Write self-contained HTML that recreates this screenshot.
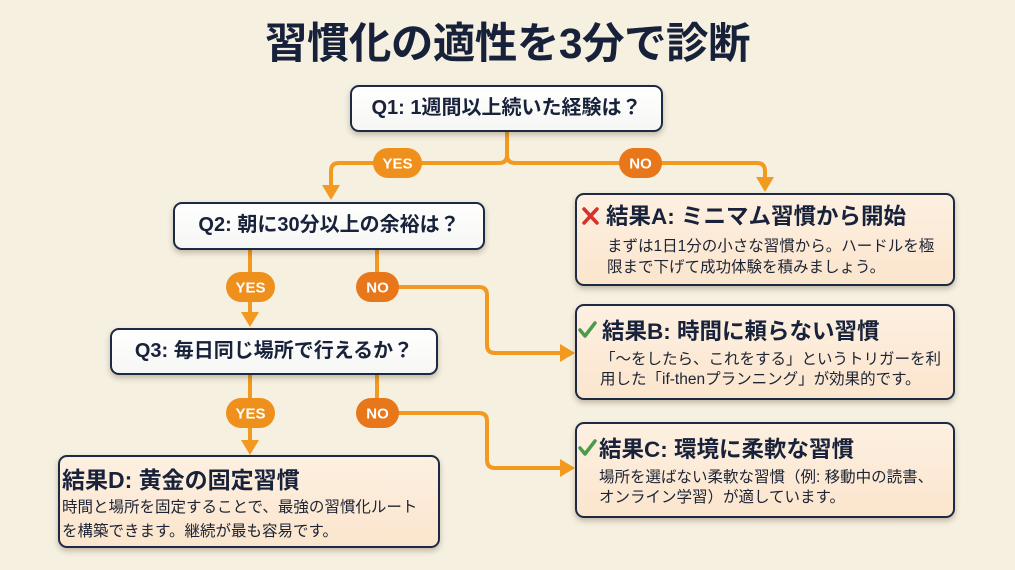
<!DOCTYPE html>
<html><head><meta charset="utf-8">
<style>
html,body{margin:0;padding:0;}
body{width:1015px;height:570px;position:relative;overflow:hidden;background:#f6f0e1;font-family:"Liberation Sans","Noto Sans CJK JP",sans-serif;color:#18223a;}
.t{position:absolute;white-space:nowrap;}
.title{left:0;width:1015px;top:18px;height:54px;line-height:54px;text-align:center;font-size:42.5px;font-weight:bold;color:#17213a;letter-spacing:-0.5px;}
.q{position:absolute;box-sizing:border-box;border:2.5px solid #1c2a44;border-radius:9px;background:linear-gradient(#ffffff,#f6f6f4);box-shadow:0 3px 6px rgba(60,40,10,0.28);text-align:center;font-weight:bold;font-size:20px;color:#18223a;}
.r{position:absolute;box-sizing:border-box;border:2.5px solid #1c2a44;border-radius:9px;background:linear-gradient(#fdf0e1,#fbe5cd);box-shadow:0 3px 6px rgba(60,40,10,0.28);}
.rt{font-size:22.5px;font-weight:bold;color:#18223a;height:30px;line-height:30px;}
.rb{font-size:15.5px;color:#1c2333;height:22px;line-height:22px;}
</style></head><body>
<div class="t title">習慣化の適性を3分で診断</div>

<svg width="1015" height="570" style="position:absolute;left:0;top:0;" xmlns="http://www.w3.org/2000/svg">
 <g fill="none" stroke="#f29a1f" stroke-width="4" stroke-linecap="round" stroke-linejoin="round">
  <path d="M507,132 V155 Q507,163 499,163 H339 Q331,163 331,171 V188"/>
  <path d="M507,155 Q507,163 515,163 H757 Q765,163 765,171 V180"/>
  <path d="M250,250 V314"/>
  <path d="M377,250 V287 H479 Q487,287 487,295 V345 Q487,353 495,353 H562"/>
  <path d="M250,375 V442"/>
  <path d="M377,375 V413 H479 Q487,413 487,421 V460 Q487,468 495,468 H562"/>
 </g>
 <g fill="#f29a1f">
  <polygon points="322,185 340,185 331,200"/>
  <polygon points="756,177 774,177 765,192"/>
  <polygon points="241,312 259,312 250,327"/>
  <polygon points="241,440 259,440 250,455"/>
  <polygon points="560,344 560,362 575,353"/>
  <polygon points="560,459 560,477 575,468"/>
 </g>
 <g font-family="Liberation Sans, sans-serif" font-weight="bold" font-size="15" fill="#ffffff" text-anchor="middle">
  <rect x="373" y="148" width="49" height="30" rx="15" fill="#f0901c"/>
  <text x="397.5" y="168.5">YES</text>
  <rect x="619" y="148" width="43" height="30" rx="15" fill="#e8761a"/>
  <text x="640.5" y="168.5">NO</text>
  <rect x="226" y="272" width="49" height="30" rx="15" fill="#f0901c"/>
  <text x="250.5" y="292.5">YES</text>
  <rect x="356" y="272" width="43" height="30" rx="15" fill="#e8761a"/>
  <text x="377.5" y="292.5">NO</text>
  <rect x="226" y="398" width="49" height="30" rx="15" fill="#f0901c"/>
  <text x="250.5" y="418.5">YES</text>
  <rect x="356" y="398" width="43" height="30" rx="15" fill="#e8761a"/>
  <text x="377.5" y="418.5">NO</text>
 </g>
</svg>

<div class="q" style="left:350px;top:85px;width:313px;height:47px;line-height:42px;">Q1: 1週間以上続いた経験は？</div>
<div class="q" style="left:173px;top:202px;width:312px;height:48px;line-height:43px;">Q2: 朝に30分以上の余裕は？</div>
<div class="q" style="left:110px;top:328px;width:328px;height:47px;line-height:42px;">Q3: 毎日同じ場所で行えるか？</div>

<div class="r" style="left:575px;top:193px;width:380px;height:93px;"></div>
<div class="r" style="left:575px;top:304px;width:380px;height:96px;"></div>
<div class="r" style="left:575px;top:422px;width:380px;height:96px;"></div>
<div class="r" style="left:58px;top:455px;width:382px;height:93px;"></div>

<svg width="1015" height="570" style="position:absolute;left:0;top:0;" xmlns="http://www.w3.org/2000/svg">
 <g stroke="#d8312a" stroke-width="3.5" stroke-linecap="round">
  <line x1="584" y1="209" x2="597" y2="223"/>
  <line x1="597" y1="209" x2="584" y2="223"/>
 </g>
 <g fill="none" stroke="#4c9a4a" stroke-width="3.5" stroke-linecap="round" stroke-linejoin="round">
  <polyline points="580,330 585,336 595,323"/>
  <polyline points="580,448 585,454 595,441"/>
 </g>
</svg>

<div class="t rt" style="left:606px;top:202px;">結果A: ミニマム習慣から開始</div>
<div class="t rb" style="left:607px;top:236px;">まずは1日1分の小さな習慣から。ハードルを極</div>
<div class="t rb" style="left:607px;top:257px;">限まで下げて成功体験を積みましょう。</div>

<div class="t rt" style="left:602px;top:317px;">結果B: 時間に頼らない習慣</div>
<div class="t rb" style="left:600px;top:349px;">「〜をしたら、これをする」というトリガーを利</div>
<div class="t rb" style="left:600px;top:369px;">用した「if-thenプランニング」が効果的です。</div>

<div class="t rt" style="left:599px;top:435px;">結果C: 環境に柔軟な習慣</div>
<div class="t rb" style="left:599px;top:467px;">場所を選ばない柔軟な習慣（例: 移動中の読書、</div>
<div class="t rb" style="left:599px;top:487px;">オンライン学習）が適しています。</div>

<div class="t rt" style="left:62px;top:465px;font-size:23px;">結果D: 黄金の固定習慣</div>
<div class="t rb" style="left:62px;top:497px;">時間と場所を固定することで、最強の習慣化ルート</div>
<div class="t rb" style="left:62px;top:521px;">を構築できます。継続が最も容易です。</div>
</body></html>
